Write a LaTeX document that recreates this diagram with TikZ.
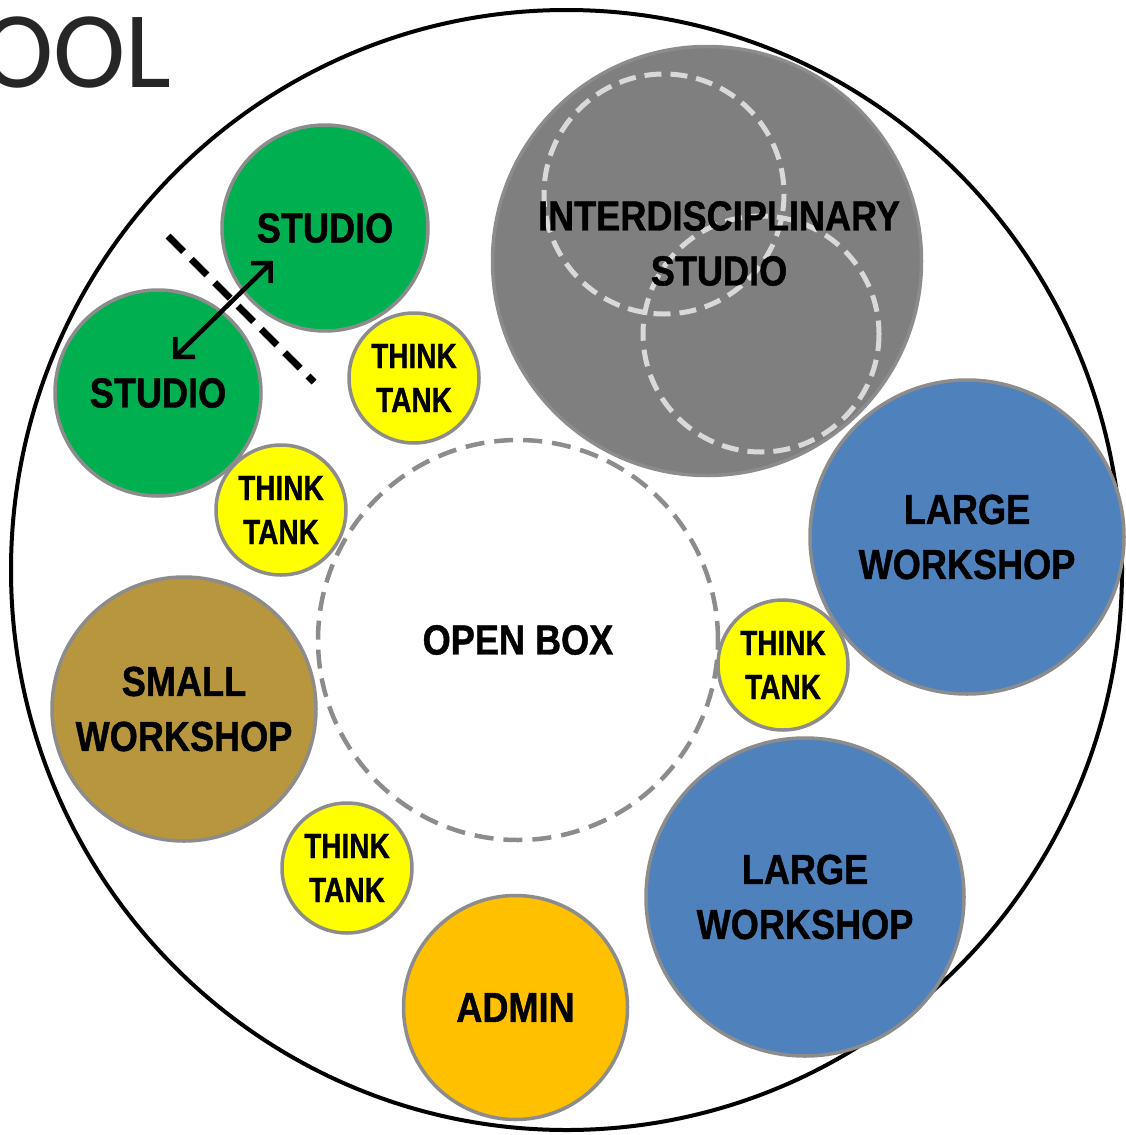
\documentclass[tikz,border=0pt]{standalone}
\usepackage{fontspec}
\setmainfont{Liberation Sans}
\newfontfamily\labfont[FakeStretch=0.86,FakeBold=1]{Liberation Sans}
\newfontfamily\tankfont[FakeStretch=0.80,FakeBold=1]{Liberation Sans}
\newfontfamily\titlefont{Carlito}
\usetikzlibrary{arrows.meta}
\definecolor{studiogreen}{HTML}{00B050}
\definecolor{intergray}{HTML}{7F7F7F}
\definecolor{dashlight}{HTML}{D9D9D9}
\definecolor{shopblue}{HTML}{4F81BD}
\definecolor{tankyellow}{HTML}{FFFF00}
\definecolor{adminorange}{HTML}{FFC000}
\definecolor{shopbrown}{RGB}{183,150,62}
\definecolor{rimgray}{HTML}{8C8C8C}
\definecolor{titlegray}{HTML}{262626}
\begin{document}
\begin{tikzpicture}[x=1pt,y=-1pt,
  room/.style={circle, draw=rimgray, line width=3.5pt, inner sep=0pt, align=center,
    font=\labfont\bfseries\fontsize{42}{55}\selectfont},
  tank/.style={room, fill=tankyellow, minimum size=130pt,
    font=\tankfont\bfseries\fontsize{35}{44}\selectfont},
  innerdash/.style={draw=dashlight, line width=5pt, dash pattern=on 17pt off 9pt},
  divider/.style={draw=black, line width=7pt, dash pattern=on 22pt off 11pt},
  linkarrow/.style={{Straight Barb[length=14pt,width=28pt]}-{Straight Barb[length=14pt,width=28pt]}, line width=4.5pt}
]
\useasboundingbox (0,0) rectangle (1125,1135);

% title fragment
\node[anchor=base east, inner sep=0pt, text=titlegray,
  font=\titlefont\fontsize{109}{109}\selectfont] (title) at (172,87) {OOL};

% outer boundary
\draw[line width=4pt] (566.5,570) ellipse [x radius=555.5, y radius=560];

% open box
\node[circle, draw=rimgray, line width=4.5pt, dash pattern=on 19pt off 10pt,
  minimum size=400pt, inner sep=0pt,
  font=\labfont\bfseries\fontsize{42}{55}\selectfont] (openbox) at (518,640) {OPEN BOX};

% studios
\node[room, fill=studiogreen, minimum size=206pt] (studioA) at (325,228) {STUDIO};
\node[room, fill=studiogreen, minimum size=206pt] (studioB) at (158,393) {STUDIO};

% divider and link
\coordinate (divA) at (168,236);
\coordinate (divB) at (314,382);
\draw[divider] (divA) -- (divB);
\coordinate (arrB) at (173,359);
\coordinate (arrA) at (273,261);
\draw[linkarrow] (arrB) -- (arrA);

% think tanks
\node[tank] (tank1) at (414,378) {THINK\\TANK};
\node[tank] (tank2) at (281,510) {THINK\\TANK};
\node[tank] (tank3) at (783,665) {THINK\\TANK};
\node[tank] (tank4) at (347,868) {THINK\\TANK};

% interdisciplinary studio
\node[room, fill=intergray, minimum size=429pt] (inter) at (707,261) {};
\draw[innerdash] (664,194) circle [radius=120];
\draw[innerdash] (761,334) circle [radius=118];
\node[align=center, inner sep=0pt,
  font=\labfont\bfseries\fontsize{42}{55}\selectfont] (interlabel) at (719,243.5) {INTERDISCIPLINARY\\STUDIO};

% workshops
\node[room, fill=shopblue, minimum size=314pt] (largeA) at (967,537) {LARGE\\WORKSHOP};
\node[room, fill=shopblue, minimum size=318pt] (largeB) at (805,897) {LARGE\\WORKSHOP};
\node[room, fill=shopbrown, minimum size=264pt] (small) at (184,709) {SMALL\\WORKSHOP};

% admin
\node[room, fill=adminorange, minimum size=224pt] (admin) at (515.5,1007.5) {ADMIN};
\end{tikzpicture}
\end{document}
